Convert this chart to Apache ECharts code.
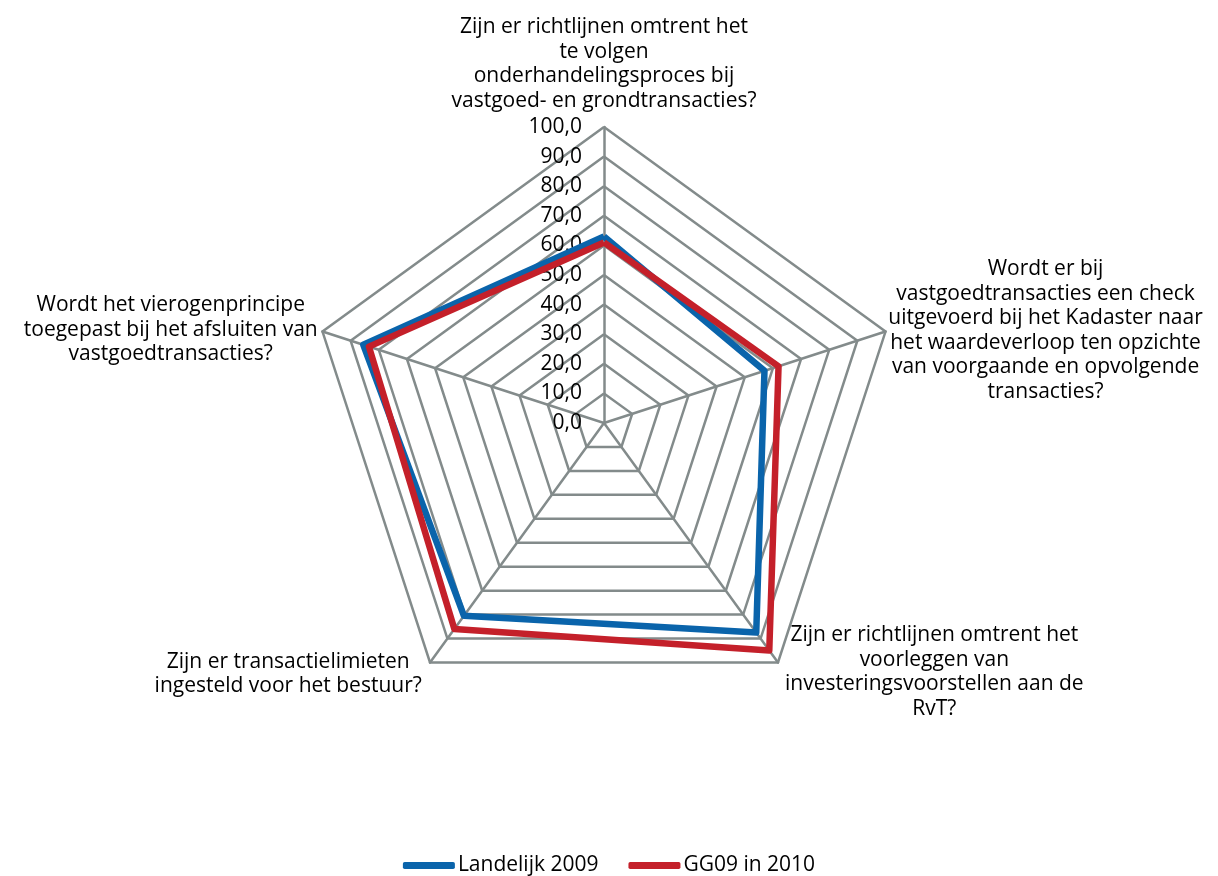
<!DOCTYPE html>
<html>
<head>
<meta charset="utf-8">
<script src="https://cdn.jsdelivr.net/npm/echarts@6/dist/echarts.min.js"></script>
<style>html,body{margin:0;padding:0;background:#fff}#c{width:1218px;height:876px}</style>
</head>
<body>
<div id="c"></div>
<script>
// Categories in clockwise order starting from the top
var categories = [
  "Zijn er richtlijnen omtrent het\nte volgen\nonderhandelingsproces bij\nvastgoed- en grondtransacties?",
  "Wordt er bij\nvastgoedtransacties een check\nuitgevoerd bij het Kadaster naar\nhet waardeverloop ten opzichte\nvan voorgaande en opvolgende\ntransacties?",
  "Zijn er richtlijnen omtrent het\nvoorleggen van\ninvesteringsvoorstellen aan de\nRvT?",
  "Zijn er transactielimieten\ningesteld voor het bestuur?",
  "Wordt het vierogenprincipe\ntoegepast bij het afsluiten van\nvastgoedtransacties?"
];
var seriesNames = ["Landelijk 2009", "GG09 in 2010"];
var landelijk2009 = [63, 57, 87.5, 80.5, 85.5];
var gg09in2010 = [61, 62, 95, 86, 83.5];
var axisMax = 100;
var nameGaps = [14, 3, 12, 14, 5];

// ECharts radar runs counter-clockwise; reorder to draw clockwise
var order = [0, 4, 3, 2, 1];
function reorder(arr) { return order.map(function (i) { return arr[i]; }); }

var FONT = "'Open Sans', sans-serif";
var FS = 21;
var chart = echarts.init(document.getElementById('c'), null, {renderer: 'canvas'});
var indicators = order.map(function (i) {
  var ind = {name: categories[i], max: axisMax, min: 0, nameGap: nameGaps[i]};
  if (i === 0) ind.axisLabel = {show: true};
  return ind;
});
chart.setOption({
  animation: false,
  backgroundColor: '#fff',
  legend: {
    bottom: -5,
    left: 'center',
    itemWidth: 52,
    itemHeight: 7,
    itemGap: 30,
    icon: 'roundRect',
    textStyle: {fontFamily: FONT, fontSize: FS, color: '#000', padding: [0, 0, 0, -2]},
    data: seriesNames
  },
  radar: {
    center: [604, 423],
    radius: 296,
    shape: 'polygon',
    splitNumber: 10,
    startAngle: 90,
    indicator: indicators,
    axisName: {
      color: '#000',
      fontFamily: FONT,
      fontSize: FS,
      lineHeight: 24.5,
      formatter: function (v) {
        return v.split('\n').map(function (l) { return '{c|' + l + '}'; }).join('\n');
      },
      rich: {c: {align: 'center', fontFamily: FONT, fontSize: FS, lineHeight: 24.5, color: '#000'}}
    },
    axisLine: {lineStyle: {color: '#838b8b', width: 2.5}},
    splitLine: {lineStyle: {color: '#838b8b', width: 2.5}},
    splitArea: {show: false},
    axisTick: {show: false},
    axisLabel: {
      show: false,
      fontFamily: FONT,
      fontSize: FS,
      color: '#000',
      margin: 22,
      formatter: function (v) { return v.toFixed(1).replace('.', ','); }
    }
  },
  series: [{
    type: 'radar',
    symbol: 'none',
    data: [
      {name: seriesNames[0], value: reorder(landelijk2009), lineStyle: {color: '#0a64ab', width: 6.5}, itemStyle: {color: '#0a64ab'}},
      {name: seriesNames[1], value: reorder(gg09in2010), lineStyle: {color: '#c4202a', width: 6.5}, itemStyle: {color: '#c4202a'}}
    ]
  }]
});
</script>
</body>
</html>
